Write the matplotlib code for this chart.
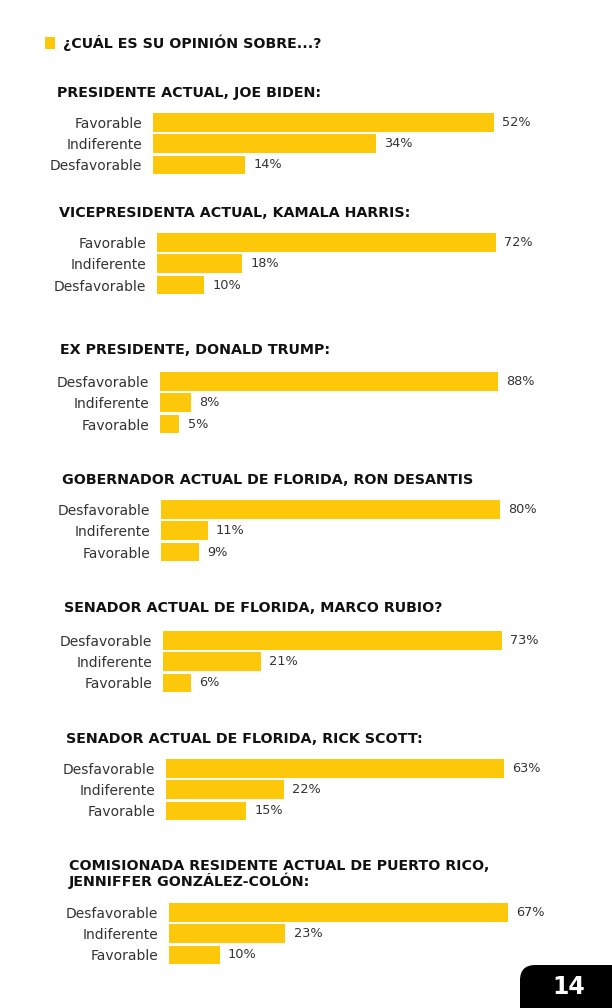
import matplotlib
matplotlib.use("Agg")
import matplotlib.pyplot as plt
from matplotlib.patches import FancyBboxPatch, Rectangle

W, H = 612, 1008
YELLOW = "#FEC80A"
TEXT = "#333333"

plt.rcParams["font.family"] = ["DejaVu Sans"]

# data
titles = [
    "PRESIDENTE ACTUAL, JOE BIDEN:",
    "VICEPRESIDENTA ACTUAL, KAMALA HARRIS:",
    "EX PRESIDENTE, DONALD TRUMP:",
    "GOBERNADOR ACTUAL DE FLORIDA, RON DESANTIS",
    "SENADOR ACTUAL DE FLORIDA, MARCO RUBIO?",
    "SENADOR ACTUAL DE FLORIDA, RICK SCOTT:",
    "COMISIONADA RESIDENTE ACTUAL DE PUERTO RICO,\nJENNIFFER GONZÁLEZ-COLÓN:",
]
order_fav_first = ["Favorable", "Indiferente", "Desfavorable"]
order_desf_first = ["Desfavorable", "Indiferente", "Favorable"]
categories = [order_fav_first, order_fav_first, order_desf_first, order_desf_first,
              order_desf_first, order_desf_first, order_desf_first]
biden = [52, 34, 14]
harris = [72, 18, 10]
trump = [88, 8, 5]
desantis = [80, 11, 9]
rubio = [73, 21, 6]
scott = [63, 22, 15]
gonzalez = [67, 23, 10]
values = [biden, harris, trump, desantis, rubio, scott, gonzalez]

# layout in pixels: (title y, first bar top, bar left, bar right max, title x)
layout = [
    (93, 112, 153, 494, 57),
    (213, 232, 157, 496, 59),
    (350, 371, 160, 498, 60),
    (480, 499, 161, 500, 62),
    (608, 630, 163, 502, 64),
    (739, 758, 166, 504, 66),
    (874, 902, 169, 508, 69),
]
ROW = 21.2


def fx(x):
    return x / W


def fy(y):
    return 1 - y / H


fig = plt.figure(figsize=(W / 100, H / 100), dpi=100)

# header
fig.patches.append(Rectangle((fx(45), fy(49)), fx(10), 12 / H, transform=fig.transFigure,
                             color=YELLOW, lw=0))
fig.text(fx(63), fy(43), "¿CUÁL ES SU OPINIÓN SOBRE...?", fontsize=10.3, fontweight="bold",
         color="#111111", va="center", ha="left")

for title, cats, vals, (ty, top, left, right, tx) in zip(titles, categories, values, layout):
    fig.text(fx(tx), fy(ty), title, fontsize=10.3, fontweight="bold", color="#111111",
             va="center", ha="left", linespacing=0.9)
    n = len(vals)
    ax = fig.add_axes([fx(left), fy(top + n * ROW), (right - left) / W, n * ROW / H])
    ys = list(range(n))
    ax.barh(ys, vals, height=0.88, color=YELLOW, edgecolor="none")
    ax.set_xlim(0, max(vals))
    ax.set_ylim(n - 0.5, -0.5)
    for y, v in zip(ys, vals):
        ax.annotate(f"{v}%", (v, y), xytext=(6, 0), textcoords="offset points",
                    va="center", ha="left", fontsize=9.3, color=TEXT,
                    annotation_clip=False)
    ax.set_yticks(ys)
    ax.set_yticklabels(cats, fontsize=10, color=TEXT)
    ax.tick_params(axis="y", length=0, pad=8)
    ax.set_xticks([])
    for s in ax.spines.values():
        s.set_visible(False)
    ax.patch.set_alpha(0)

# page number tab
fig.patches.append(FancyBboxPatch((fx(520), fy(1030)), fx(110), 65 / H,
                                  boxstyle="round,pad=0,rounding_size=0.025",
                                  transform=fig.transFigure, color="black", lw=0,
                                  mutation_aspect=W / H))
fig.text(fx(569), fy(987), "14", fontsize=17, fontweight="bold", color="white",
         ha="center", va="center")

fig.savefig("out.png", dpi=100)
